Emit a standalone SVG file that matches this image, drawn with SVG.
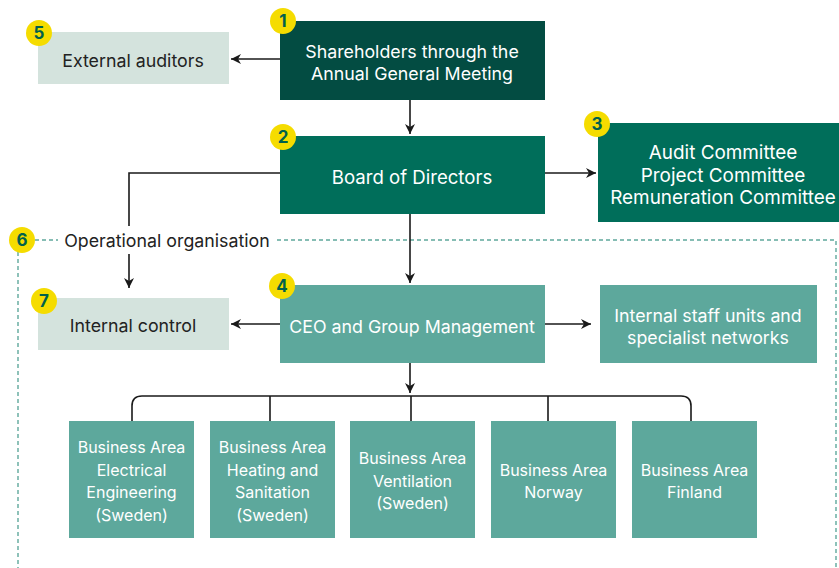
<svg xmlns="http://www.w3.org/2000/svg" width="839" height="568" viewBox="0 0 839 568">
<defs>
<marker id="ah" viewBox="0 0 10 10" refX="10" refY="5" markerWidth="10" markerHeight="10" markerUnits="userSpaceOnUse" orient="auto">
<path d="M0,0 L10,5 L0,10 L3,5 Z" fill="#1a1a1a"/>
</marker>
<style>
text{font-family:Inter,"Liberation Sans",sans-serif;font-size:17.8px;text-anchor:middle;dominant-baseline:central}
.w{fill:#ffffff}
.k{fill:#222222}
.big{font-size:18.6px}
.cm{font-size:18.9px}
.sm{font-size:16px}
.dark{fill:#034c42}
.mid{fill:#006e5a}
.teal{fill:#5da89c}
.light{fill:#d4e3dd}
.badge circle{fill:#f5dc00}
.badge text{fill:#00604e;font-weight:bold;font-size:17px}
.ln{stroke:#1a1a1a;stroke-width:1.6;fill:none}
.dash{stroke:#5fa89c;stroke-width:1.4;stroke-dasharray:4 3;fill:none}
</style>
</defs>
<rect width="839" height="568" fill="#ffffff"/>

<g id="operational-frame">
<path class="dash" d="M35,240 H58 M277,240 H836 V568 M18,252 V568"/>
<text class="k" x="167" y="240">Operational organisation</text>
</g>

<g id="connectors">
<path class="ln" d="M280,59 H231" marker-end="url(#ah)"/>
<path class="ln" d="M410,100 V134" marker-end="url(#ah)"/>
<path class="ln" d="M545,173 H596" marker-end="url(#ah)"/>
<path class="ln" d="M280,173 H129 V226 M129,254 V288" marker-end="url(#ah)"/>
<path class="ln" d="M410,214 V283" marker-end="url(#ah)"/>
<path class="ln" d="M280,324 H231" marker-end="url(#ah)"/>
<path class="ln" d="M545,324 H591" marker-end="url(#ah)"/>
<path class="ln" d="M410,363 V393" marker-end="url(#ah)"/>
<path class="ln" d="M132,421 V406 Q132,396 142,396 H681 Q691,396 691,406 V421 M270,396 V421 M411,396 V421 M548,396 V421"/>
</g>

<g id="n1">
<rect class="dark" x="280" y="21" width="265" height="79"/>
<text class="w" x="412" y="51">Shareholders through the</text>
<text class="w" x="412" y="73">Annual General Meeting</text>
</g>
<g id="n5">
<rect class="light" x="38" y="32" width="191" height="52"/>
<text class="k" x="133" y="60">External auditors</text>
</g>
<g id="n2">
<rect class="mid" x="280" y="136" width="265" height="78"/>
<text class="w big" x="412" y="177">Board of Directors</text>
</g>
<g id="n3">
<rect class="mid" x="598" y="123" width="241" height="99"/>
<text class="w cm" x="723" y="152">Audit Committee</text>
<text class="w cm" x="723" y="175">Project Committee</text>
<text class="w cm" x="723" y="197">Remuneration Committee</text>
</g>
<g id="n7">
<rect class="light" x="38" y="298" width="191" height="52"/>
<text class="k" x="133" y="325">Internal control</text>
</g>
<g id="n4">
<rect class="teal" x="280" y="285" width="265" height="78"/>
<text class="w" x="412" y="326">CEO and Group Management</text>
</g>
<g id="staff">
<rect class="teal" x="600" y="285" width="217" height="78"/>
<text class="w" x="708" y="315">Internal staff units and</text>
<text class="w" x="708" y="337">specialist networks</text>
</g>
<g id="ba1">
<rect class="teal" x="69" y="421" width="125" height="117"/>
<text class="w sm" x="131.5" y="447">Business Area</text>
<text class="w sm" x="131.5" y="470">Electrical</text>
<text class="w sm" x="131.5" y="492">Engineering</text>
<text class="w sm" x="131.5" y="515">(Sweden)</text>
</g>
<g id="ba2">
<rect class="teal" x="210" y="421" width="125" height="117"/>
<text class="w sm" x="272.5" y="447">Business Area</text>
<text class="w sm" x="272.5" y="470">Heating and</text>
<text class="w sm" x="272.5" y="492">Sanitation</text>
<text class="w sm" x="272.5" y="515">(Sweden)</text>
</g>
<g id="ba3">
<rect class="teal" x="350" y="421" width="125" height="117"/>
<text class="w sm" x="412.5" y="458">Business Area</text>
<text class="w sm" x="412.5" y="481">Ventilation</text>
<text class="w sm" x="412.5" y="503">(Sweden)</text>
</g>
<g id="ba4">
<rect class="teal" x="491" y="421" width="125" height="117"/>
<text class="w sm" x="553.5" y="470">Business Area</text>
<text class="w sm" x="553.5" y="492">Norway</text>
</g>
<g id="ba5">
<rect class="teal" x="632" y="421" width="125" height="117"/>
<text class="w sm" x="694.5" y="470">Business Area</text>
<text class="w sm" x="694.5" y="492">Finland</text>
</g>

<g id="badges">
<g class="badge"><circle cx="283" cy="21" r="13"/><text x="283" y="21">1</text></g>
<g class="badge"><circle cx="283" cy="137" r="13"/><text x="283" y="137">2</text></g>
<g class="badge"><circle cx="597" cy="124" r="13"/><text x="597" y="124">3</text></g>
<g class="badge"><circle cx="282" cy="286" r="13"/><text x="282" y="286">4</text></g>
<g class="badge"><circle cx="39" cy="33" r="13"/><text x="39" y="33">5</text></g>
<g class="badge"><circle cx="22" cy="240" r="13"/><text x="22" y="240">6</text></g>
<g class="badge"><circle cx="44" cy="301" r="13"/><text x="44" y="301">7</text></g>
</g>
</svg>
